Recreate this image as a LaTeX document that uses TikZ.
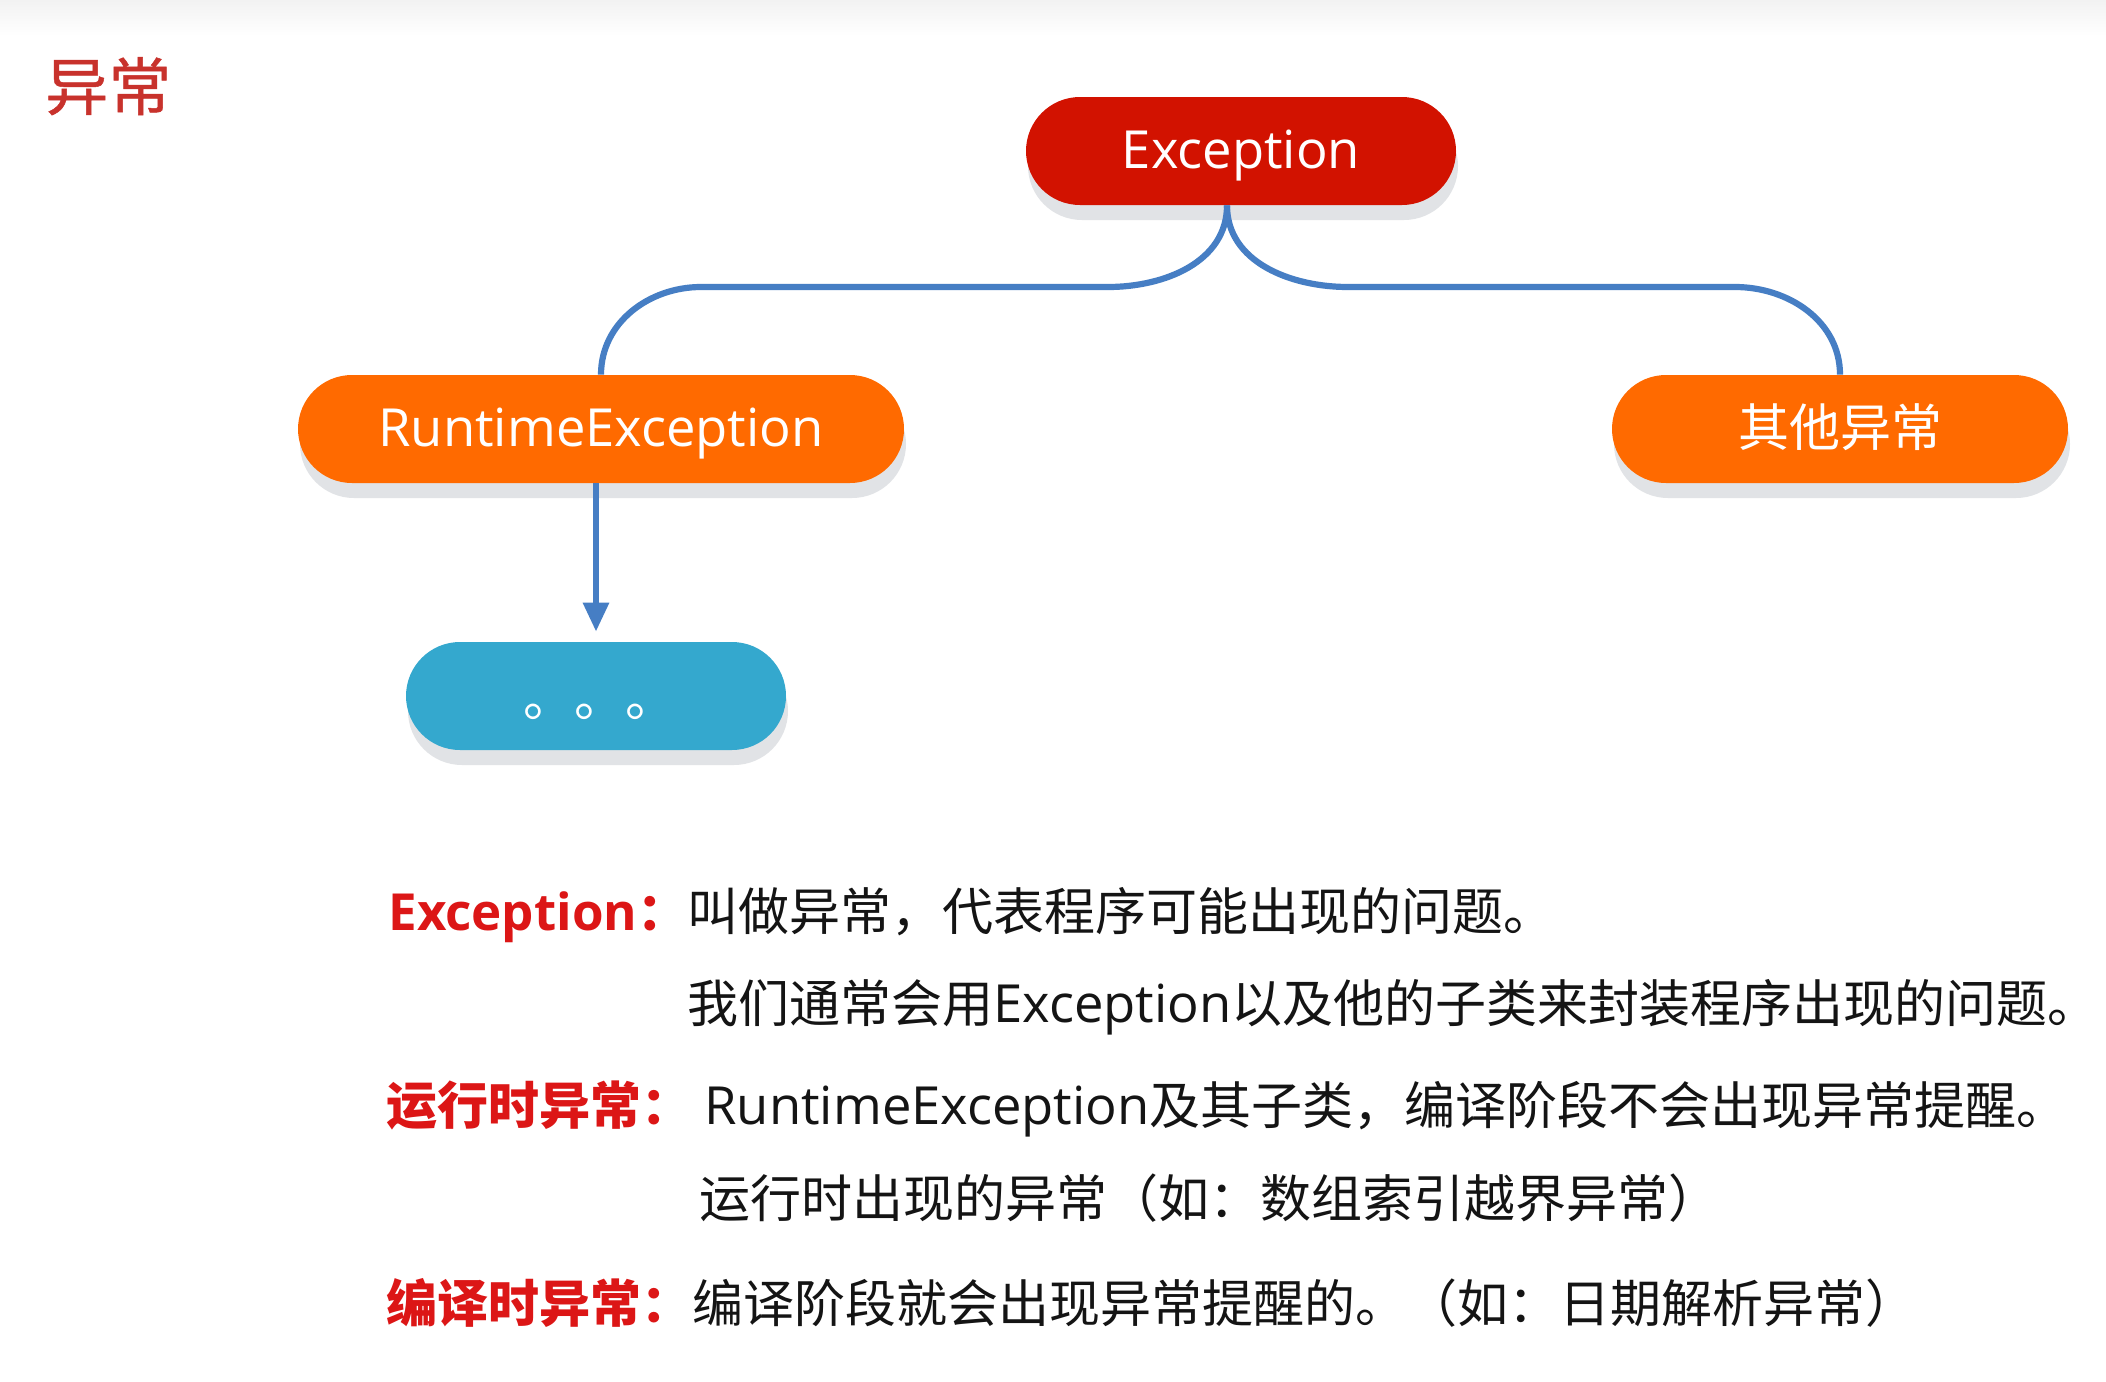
\documentclass[tikz,border=0pt]{standalone}
\usepackage{fontspec}
\setmainfont{Open Sans}[Scale=1.03]
\newfontfamily\cjk{Noto Sans CJK SC}
\newfontfamily\cjktitle{Noto Sans CJK SC}[FakeBold=0.8]
\usetikzlibrary{calc,arrows.meta,shadows}
\definecolor{excred}{RGB}{210,18,0}
\definecolor{orng}{RGB}{255,106,0}
\definecolor{cyanbox}{RGB}{52,168,206}
\definecolor{connblue}{RGB}{70,126,196}
\definecolor{shad}{RGB}{225,227,230}
\definecolor{lblred}{RGB}{220,22,22}
\definecolor{titlered}{RGB}{200,50,44}
\definecolor{bodyk}{RGB}{20,20,20}
\definecolor{topband}{RGB}{242,242,242}
\begin{document}
\begin{tikzpicture}[x=0.5pt,y=-0.5pt,
  pill/.style={rounded corners=27pt, minimum height=54pt, inner sep=0pt, text=white,
    font=\fontsize{25.5pt}{30pt}\selectfont, text height=22pt, text depth=5pt,
    drop shadow={shadow xshift=1pt, shadow yshift=-7.5pt, fill=shad, opacity=1}},
  conn/.style={draw=connblue, line width=3.1pt},
  body/.style={anchor=base west, inner sep=0pt, text=bodyk, font=\fontsize{25.5pt}{30pt}\selectfont},
  lbl/.style={anchor=base west, inner sep=0pt, text=lblred, font=\fontsize{25.5pt}{30pt}\selectfont\bfseries}]
\useasboundingbox (0,0) rectangle (2106,1382);
\fill[white] (0,0) rectangle (2106,1382);
\shade[top color=topband, bottom color=white] (0,0) rectangle (2106,36);
% title
\node[anchor=base west, inner sep=0pt, text=titlered, font=\cjktitle\fontsize{31.5pt}{36pt}\selectfont] (title) at (45,110) {异常};
% nodes
\node[pill, fill=excred, minimum width=215pt] (exc) at (1241,151) {Exception};
\node[pill, fill=orng, minimum width=303pt] (rt) at (601,429) {RuntimeException};
\node[pill, fill=orng, minimum width=228pt] (other) at (1840,429) {\cjk 其他异常};
\node[pill, fill=cyanbox, minimum width=190pt, text height=25pt, text depth=5pt] (dots) at (596,696) {\hspace*{4pt}\cjk 。。。};
% connectors
\coordinate (exs) at ($(exc.south)+(-14,0)$);
\coordinate (jl) at (1108,287);
\coordinate (jl2) at (701,287);
\coordinate (jr) at (1348,287);
\coordinate (jr2) at (1735,287);
\draw[conn] (exs) to[out=-90,in=0] (jl) -- (jl2) to[out=180,in=90] (rt.north);
\draw[conn] (exs) to[out=-90,in=180] (jr) -- (jr2) to[out=0,in=90] (other.north);
\draw[conn, -{Triangle[width=12.5pt,length=14.5pt]}, shorten >=5pt] (dots.north |- rt.south) -- (dots.north);
% text lines
\node[lbl] (l1) at (388,930) {{\fontsize{24.8pt}{30pt}\selectfont Exception}{\cjk ：}};
\node[body] (b1) at (687,930) {\cjk 叫做异常，代表程序可能出现的问题。};
\node[body] (b2) at (687,1022) {{\cjk 我们通常会用}Exception{\cjk 以及他的子类来封装程序出现的问题。}};
\node[lbl] (l3) at (386,1124) {\cjk 运行时异常：};
\node[body] (b3) at (704,1124) {RuntimeException{\cjk 及其子类，编译阶段不会出现异常提醒。}};
\node[body] (b4) at (699,1217) {\cjk 运行时出现的异常（如：数组索引越界异常）};
\node[lbl] (l5) at (386,1322) {\cjk 编译时异常：};
\node[body] (b5) at (692,1322) {\cjk 编译阶段就会出现异常提醒的。（如：日期解析异常）};
\end{tikzpicture}
\end{document}
